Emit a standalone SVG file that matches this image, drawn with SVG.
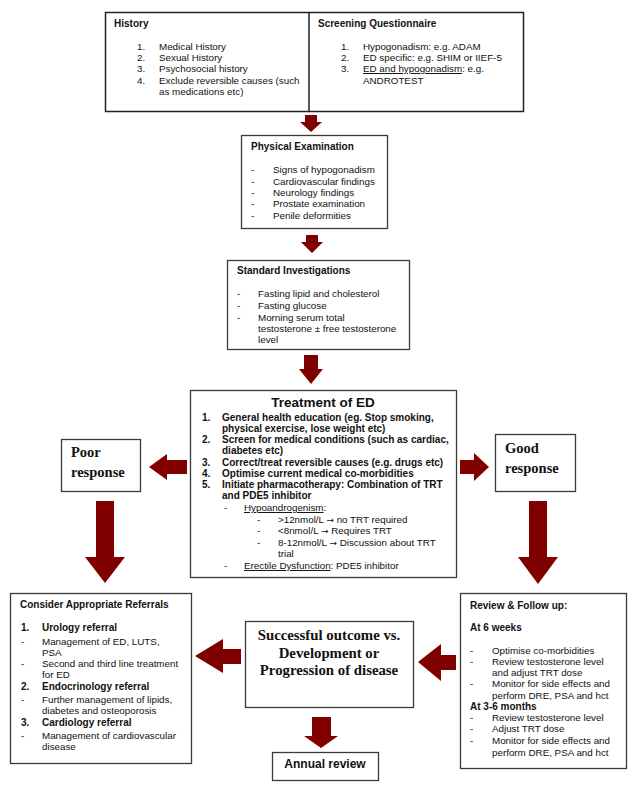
<svg xmlns="http://www.w3.org/2000/svg" width="636" height="800" viewBox="0 0 636 800">
<style>
.box{fill:#fff;stroke:#3a3a3a;stroke-width:1.3}
.t{font-family:"Liberation Sans",Arial,sans-serif;font-size:9.8px;fill:#111}
.b{font-family:"Liberation Sans",Arial,sans-serif;font-size:10px;font-weight:bold;fill:#111}
.bi{font-family:"Liberation Sans",Arial,sans-serif;font-size:10px;font-weight:bold;fill:#111}
.s{font-family:"Liberation Serif","Times New Roman",serif;font-weight:bold;fill:#111}
.u{text-decoration:underline}
.ar{font-family:"DejaVu Sans",sans-serif;font-size:9px}
.arr{fill:#800000}
</style>
<rect width="636" height="800" fill="#fff"/>
<g id="connectors">
<polygon class="arr" points="305,115 317,115 317,122 322,122 311,132 300,122 305,122"/>
<polygon class="arr" points="306,235 318,235 318,242 323,242 312,253 301,242 306,242"/>
<polygon class="arr" points="304,355 318,355 318,369 323,369 311,384 299,369 304,369"/>
<polygon class="arr" points="187,460 167,460 167,454 149,467 167,480 167,474 187,474"/>
<polygon class="arr" points="460,460 474,460 474,453 489,467 474,481 474,474 460,474"/>
<polygon class="arr" points="96,501 114,501 114,557 125,557 105,583 85,557 96,557"/>
<polygon class="arr" points="529,501 547,501 547,557 558,557 538,584 518,557 529,557"/>
<polygon class="arr" points="241,649 223,649 223,639 195,656 223,673 223,664 241,664"/>
<polygon class="arr" points="456,655 441,655 441,644 418,662 441,681 441,670 456,670"/>
<polygon class="arr" points="312,717 331,717 331,736 338,736 321,748 304,736 312,736"/>
</g>
<g id="history-screening">
<rect class="box" x="105.5" y="12.5" width="418" height="99" style="stroke:#222;stroke-width:1.5"/>
<line x1="309" y1="12.5" x2="309" y2="111.5" stroke="#222" stroke-width="1.5"/>
<text class="b" x="114" y="27">History</text>
<text class="t" x="137" y="50">1.</text><text class="t" x="159" y="50">Medical History</text>
<text class="t" x="137" y="61">2.</text><text class="t" x="159" y="61">Sexual History</text>
<text class="t" x="137" y="72">3.</text><text class="t" x="159" y="72">Psychosocial history</text>
<text class="t" x="137" y="84">4.</text><text class="t" x="159" y="84">Exclude reversible causes (such</text>
<text class="t" x="159" y="95">as medications etc)</text>
<text class="b" x="318" y="27">Screening Questionnaire</text>
<text class="t" x="341" y="50">1.</text><text class="t" x="363" y="50">Hypogonadism: e.g. ADAM</text>
<text class="t" x="341" y="61">2.</text><text class="t" x="363" y="61">ED specific: e.g. SHIM or IIEF-5</text>
<text class="t" x="341" y="72">3.</text><text class="t" x="363" y="72"><tspan class="u">ED and hypogonadism</tspan>: e.g.</text>
<text class="t" x="363" y="84">ANDROTEST</text>
</g>
<g id="physical">
<rect class="box" x="241.5" y="135.5" width="146" height="93"/>
<text class="b" x="251" y="150">Physical Examination</text>
<text class="t" x="251" y="173">-</text><text class="t" x="273" y="173">Signs of hypogonadism</text>
<text class="t" x="251" y="185">-</text><text class="t" x="273" y="185">Cardiovascular findings</text>
<text class="t" x="251" y="196">-</text><text class="t" x="273" y="196">Neurology findings</text>
<text class="t" x="251" y="207">-</text><text class="t" x="273" y="207">Prostate examination</text>
<text class="t" x="251" y="219">-</text><text class="t" x="273" y="219">Penile deformities</text>
</g>
<g id="investigations">
<rect class="box" x="227.5" y="260.5" width="182" height="89"/>
<text class="b" x="237" y="274">Standard Investigations</text>
<text class="t" x="237" y="297">-</text><text class="t" x="258" y="297">Fasting lipid and cholesterol</text>
<text class="t" x="237" y="309">-</text><text class="t" x="258" y="309">Fasting glucose</text>
<text class="t" x="237" y="321">-</text><text class="t" x="258" y="321">Morning serum total</text>
<text class="t" x="258" y="332">testosterone ± free testosterone</text>
<text class="t" x="258" y="343">level</text>
</g>
<g id="treatment">
<rect class="box" x="190.5" y="390.5" width="266" height="187"/>
<text class="s" x="323" y="407" text-anchor="middle" style="font-family:'Liberation Sans',Arial,sans-serif;font-size:13.5px">Treatment of ED</text>
<text class="bi" x="202" y="421">1.</text><text class="bi" x="222" y="421">General health education (eg. Stop smoking,</text>
<text class="bi" x="222" y="432">physical exercise, lose weight etc)</text>
<text class="bi" x="202" y="443">2.</text><text class="bi" x="222" y="443">Screen for medical conditions (such as cardiac,</text>
<text class="bi" x="222" y="454">diabetes etc)</text>
<text class="bi" x="202" y="466">3.</text><text class="bi" x="222" y="466">Correct/treat reversible causes (e.g. drugs etc)</text>
<text class="bi" x="202" y="477">4.</text><text class="bi" x="222" y="477">Optimise current medical co-morbidities</text>
<text class="bi" x="202" y="488">5.</text><text class="bi" x="222" y="488">Initiate pharmacotherapy: Combination of TRT</text>
<text class="bi" x="222" y="499">and PDE5 inhibitor</text>
<text class="t" x="224" y="511">-</text><text class="t" x="244" y="511"><tspan class="u">Hypoandrogenism</tspan>:</text>
<text class="t" x="257" y="523">-</text><text class="t" x="278" y="523">&gt;12nmol/L <tspan class="ar">→</tspan> no TRT required</text>
<text class="t" x="257" y="534">-</text><text class="t" x="278" y="534">&lt;8nmol/L <tspan class="ar">→</tspan> Requires TRT</text>
<text class="t" x="257" y="546">-</text><text class="t" x="278" y="546">8-12nmol/L <tspan class="ar">→</tspan> Discussion about TRT</text>
<text class="t" x="278" y="557">trial</text>
<text class="t" x="224" y="569">-</text><text class="t" x="244" y="569"><tspan class="u">Erectile Dysfunction</tspan>: PDE5 inhibitor</text>
</g>
<g id="poor">
<rect class="box" x="61.5" y="439.5" width="79" height="52"/>
<text class="s" x="71" y="457" style="font-size:14.5px">Poor</text>
<text class="s" x="71" y="477" style="font-size:14.5px">response</text>
</g>
<g id="good">
<rect class="box" x="495.5" y="434.5" width="80" height="57"/>
<text class="s" x="505" y="453" style="font-size:14.5px">Good</text>
<text class="s" x="505" y="473" style="font-size:14.5px">response</text>
</g>
<g id="referrals">
<rect class="box" x="10.5" y="593.5" width="181" height="170"/>
<text class="b" x="20" y="608">Consider Appropriate Referrals</text>
<text class="bi" x="21" y="631">1.</text><text class="bi" x="42" y="631">Urology referral</text>
<text class="t" x="21" y="645">-</text><text class="t" x="42" y="645">Management of ED, LUTS,</text>
<text class="t" x="42" y="656">PSA</text>
<text class="t" x="21" y="667">-</text><text class="t" x="42" y="667">Second and third line treatment</text>
<text class="t" x="42" y="678">for ED</text>
<text class="bi" x="21" y="690">2.</text><text class="bi" x="42" y="690">Endocrinology referral</text>
<text class="t" x="21" y="703">-</text><text class="t" x="42" y="703">Further management of lipids,</text>
<text class="t" x="42" y="714">diabetes and osteoporosis</text>
<text class="bi" x="21" y="726">3.</text><text class="bi" x="42" y="726">Cardiology referral</text>
<text class="t" x="21" y="739">-</text><text class="t" x="42" y="739">Management of cardiovascular</text>
<text class="t" x="42" y="750">disease</text>
</g>
<g id="outcome">
<rect class="box" x="245.5" y="621.5" width="168" height="86"/>
<text class="s" x="329" y="640" text-anchor="middle" style="font-size:14.8px">Successful outcome vs.</text>
<text class="s" x="329" y="658" text-anchor="middle" style="font-size:14.8px">Development or</text>
<text class="s" x="329" y="675" text-anchor="middle" style="font-size:14.8px">Progression of disease</text>
</g>
<g id="annual">
<rect class="box" x="272.5" y="752.5" width="106" height="28"/>
<text class="b" x="325" y="768" text-anchor="middle" style="font-size:12px">Annual review</text>
</g>
<g id="review">
<rect class="box" x="460.5" y="593.5" width="166" height="175"/>
<text class="b" x="470" y="609">Review &amp; Follow up:</text>
<text class="b" x="470" y="631">At 6 weeks</text>
<text class="t" x="470" y="654">-</text><text class="t" x="492" y="654">Optimise co-morbidities</text>
<text class="t" x="470" y="665">-</text><text class="t" x="492" y="665">Review testosterone level</text>
<text class="t" x="492" y="676">and adjust TRT dose</text>
<text class="t" x="470" y="687">-</text><text class="t" x="492" y="687">Monitor for side effects and</text>
<text class="t" x="492" y="699">perform DRE, PSA and hct</text>
<text class="b" x="470" y="710">At 3-6 months</text>
<text class="t" x="470" y="721">-</text><text class="t" x="492" y="721">Review testosterone level</text>
<text class="t" x="470" y="732">-</text><text class="t" x="492" y="732">Adjust TRT dose</text>
<text class="t" x="470" y="744">-</text><text class="t" x="492" y="744">Monitor for side effects and</text>
<text class="t" x="492" y="756">perform DRE, PSA and hct</text>
</g>
</svg>
